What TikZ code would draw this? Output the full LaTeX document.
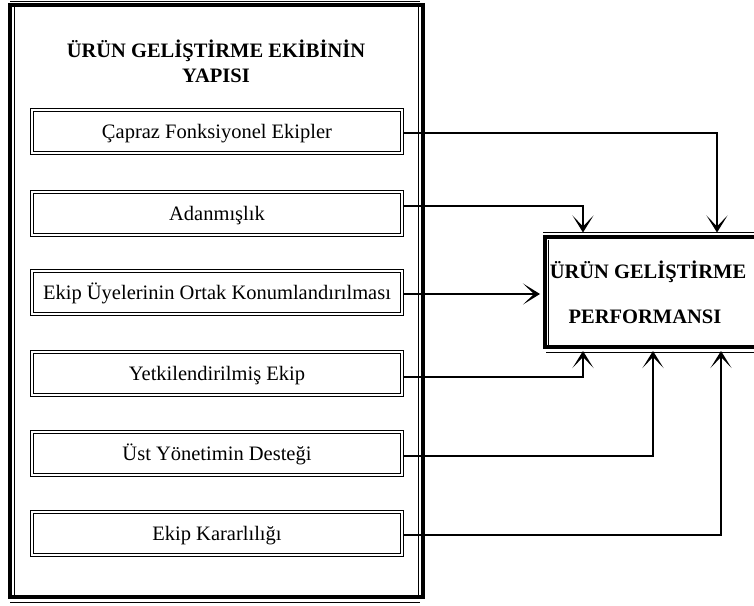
\documentclass[tikz,border=0pt]{standalone}
\usepackage{fontspec}
\setmainfont{Liberation Serif}
\usetikzlibrary{arrows.meta,calc}
\begin{document}
\begin{tikzpicture}[x=1pt,y=-1pt,
  lbl/.style={font=\fontsize{20.5}{24}\selectfont},
  ttl/.style={font=\fontsize{20.5}{24}\selectfont\bfseries},
  itembox/.style={draw=black, line width=1pt,
    minimum width=373pt, minimum height=46pt, inner sep=0pt, outer sep=0pt,
    text height=17pt, text depth=3pt, lbl},
  thinln/.style={line width=1pt},
  conn/.style={line width=2pt},
  arr/.style={conn, -{Stealth[length=17pt,width=21pt,inset=11pt,line width=1.2pt]}},
  perfbox/.style={draw, line width=4pt, minimum width=225.5pt, minimum height=109.5pt,
    outer sep=4.5pt, inner sep=0pt}
]
\useasboundingbox (0,0) rectangle (754,605);
\clip (0,0) rectangle (754,605);
\fill[white] (0,0) rectangle (754,605);

% outer container frame
\draw[line width=4pt] (9.5,4.7) rectangle (423,597);
\draw[thinln] (14,7) -- (14,595);
\draw[thinln] (418,7) -- (418,595);
\draw[thinln] (10,1) -- (420,1);
\draw[thinln] (10,602) -- (420,602);

\node[ttl, anchor=base] (t1) at (216,57) {ÜRÜN GELİŞTİRME EKİBİNİN};
\node[ttl, anchor=base] (t2) at (216,82) {YAPISI};

% factor boxes
\node[itembox] (c1) at (217,131.5) {Çapraz Fonksiyonel Ekipler};
\node[itembox] (c2) at (217,213.5) {Adanmışlık};
\node[itembox] (c3) at (217,292) {Ekip Üyelerinin Ortak Konumlandırılması};
\node[itembox] (c4) at (217,373.5) {Yetkilendirilmiş Ekip};
\node[itembox] (c5) at (217,453) {Üst Yönetimin Desteği};
\node[itembox] (c6) at (217,533) {Ekip Kararlılığı};
\foreach \n in {c1,c2,c3,c4,c5,c6}
  \draw[thinln] ([shift={(3pt,-3pt)}]\n.north west) rectangle ([shift={(-3pt,3pt)}]\n.south east);

% performance box
\node[perfbox] (perf) at (657.25,291.75) {};
\draw[thinln] (543,232.5) -- (760,232.5);
\draw[thinln] (546,352) -- (760,352);
\draw[thinln] (548.5,239.5) -- (548.5,344.5);
\node[ttl, anchor=base] (p1) at (648,278) {ÜRÜN GELİŞTİRME};
\node[ttl, anchor=base] (p2) at (645,323) {PERFORMANSI};

% connectors
\draw[arr] ([yshift=-1.5pt]c1.east) -| ([xshift=177pt]perf.north west);
\draw[arr] ([yshift=7.5pt]c2.east) -| ([xshift=43pt]perf.north west);
\draw[arr] ([yshift=-2pt]c3.east) coordinate (s3) -- (s3 -| perf.west);
\draw[arr] ([yshift=-3.5pt]c4.east) -| ([xshift=43pt]perf.south west);
\draw[arr] ([yshift=-3pt]c5.east) -| ([xshift=113pt]perf.south west);
\draw[arr] ([yshift=-2pt]c6.east) -| ([xshift=181pt]perf.south west);
\end{tikzpicture}
\end{document}
